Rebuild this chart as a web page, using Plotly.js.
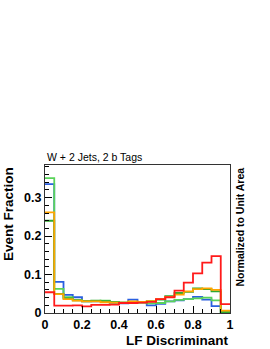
<!DOCTYPE html>
<html>
<head>
<meta charset="utf-8">
<script src="https://cdn.plot.ly/plotly-3.0.1.min.js"></script>
<style>html,body{margin:0;padding:0;background:#fff;}#chart{width:270px;height:349px;}</style>
</head>
<body>
<div id="chart"></div>
<script>
// Bin edges of the LF discriminant histogram (20 bins)
const binEdges = [0, 0.05, 0.1, 0.15, 0.2, 0.25, 0.3, 0.35, 0.4, 0.45, 0.5,
                  0.55, 0.6, 0.65, 0.7, 0.75, 0.8, 0.85, 0.9, 0.95, 1.0];

// Per-bin event fractions
const blueVals   = [0.335, 0.081, 0.047, 0.041, 0.030, 0.030, 0.031, 0.027, 0.025, 0.035,
                    0.029, 0.020, 0.024, 0.030, 0.033, 0.036, 0.042, 0.035, 0.018, 0.001];
const lgreenVals = [0.351, 0.063, 0.041, 0.034, 0.030, 0.031, 0.032, 0.028, 0.027, 0.027,
                    0.027, 0.025, 0.026, 0.030, 0.034, 0.036, 0.038, 0.040, 0.033, 0.002];
const orangeVals = [0.262, 0.049, 0.036, 0.032, 0.030, 0.030, 0.028, 0.027, 0.027, 0.030,
                    0.029, 0.031, 0.036, 0.042, 0.048, 0.056, 0.062, 0.064, 0.060, 0.006];
const dgreenVals = [0.240, 0.050, 0.038, 0.033, 0.031, 0.032, 0.031, 0.028, 0.027, 0.028,
                    0.028, 0.031, 0.035, 0.044, 0.052, 0.055, 0.064, 0.062, 0.056, 0.002];
const redVals    = [0.054, 0.019, 0.019, 0.020, 0.017, 0.021, 0.021, 0.022, 0.026, 0.026,
                    0.027, 0.029, 0.036, 0.041, 0.058, 0.079, 0.103, 0.131, 0.148, 0.023];

const xTickVals = [0, 0.2, 0.4, 0.6, 0.8, 1];
const xTickText = ["0", "0.2", "0.4", "0.6", "0.8", "1"];
const yTickVals = [0, 0.1, 0.2, 0.3];
const yTickText = ["0", "0.1", "0.2", "0.3"];

function stepTrace(vals, color) {
  // step histogram: each value held across its bin, last value repeated at the right edge
  return {
    type: 'scatter', mode: 'lines',
    x: binEdges,
    y: vals.concat([vals[vals.length - 1]]),
    line: {shape: 'hv', color: color, width: 1.8},
    hoverinfo: 'skip', showlegend: false
  };
}

const traces = [
  stepTrace(blueVals, '#2a5fe0'),
  stepTrace(lgreenVals, '#5ad35a'),
  stepTrace(dgreenVals, '#2fa82f'),
  stepTrace(orangeVals, '#ffa500'),
  stepTrace(redVals, '#ff1a1a')
];

const fontFam = '"Liberation Sans", Arial, Helvetica, sans-serif';

const layout = {
  width: 270, height: 349,
  margin: {l: 45, r: 40, t: 165, b: 36, pad: 0},
  paper_bgcolor: '#ffffff', plot_bgcolor: '#ffffff',
  showlegend: false,
  xaxis: {
    range: [0, 1], tickvals: xTickVals, ticktext: xTickText,
    ticks: 'inside', ticklen: 7, tickwidth: 1, tickcolor: '#000',
    minor: {dtick: 0.05, ticks: 'inside', ticklen: 4, tickcolor: '#000'},
    showline: true, linecolor: '#333', linewidth: 1, mirror: true,
    showgrid: false, zeroline: false,
    tickfont: {family: fontFam, size: 12.5, color: '#000', weight: 'bold'}
  },
  yaxis: {
    range: [0, 0.385], tickvals: yTickVals, ticktext: yTickText,
    ticks: 'inside', ticklen: 7, tickwidth: 1, tickcolor: '#000',
    minor: {dtick: 0.02, ticks: 'inside', ticklen: 4, tickcolor: '#000'},
    showline: true, linecolor: '#333', linewidth: 1, mirror: true,
    showgrid: false, zeroline: false,
    tickfont: {family: fontFam, size: 12.5, color: '#000', weight: 'bold'}
  },
  annotations: [
    {text: 'W + 2 Jets, 2 b Tags', xref: 'paper', yref: 'paper', x: 0, y: 1.0,
     xanchor: 'left', yanchor: 'bottom', showarrow: false,
     font: {family: fontFam, size: 10.5, color: '#000'}},
    {text: 'Event Fraction', xref: 'paper', yref: 'paper', x: -0.2, y: 1.0,
     xanchor: 'center', yanchor: 'top', textangle: -90, showarrow: false,
     font: {family: fontFam, size: 13.5, color: '#000', weight: 'bold'}},
    {text: 'LF Discriminant', xref: 'paper', yref: 'paper', x: 1.0, y: -0.243,
     xanchor: 'right', yanchor: 'bottom', showarrow: false, borderpad: 0,
     font: {family: fontFam, size: 13.5, color: '#000', weight: 'bold'}},
    {text: 'Normalized to Unit Area', xref: 'paper', yref: 'paper', x: 1.054, y: 1.0,
     xanchor: 'center', yanchor: 'top', textangle: -90, showarrow: false,
     font: {family: fontFam, size: 10.5, color: '#000', weight: 'bold'}}
  ]
};

Plotly.newPlot('chart', traces, layout, {displayModeBar: false, staticPlot: true});
</script>
</body>
</html>
